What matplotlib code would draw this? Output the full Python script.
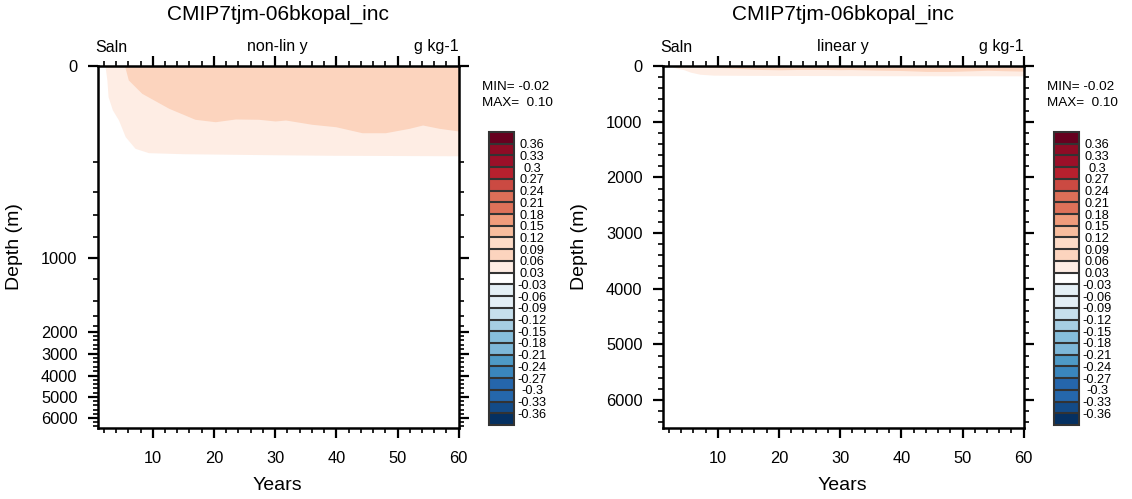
import numpy as np
import matplotlib as mpl
import matplotlib.pyplot as plt
from matplotlib.colors import ListedColormap, BoundaryNorm
from matplotlib.ticker import FixedLocator, NullFormatter, NullLocator

plt.rcParams['font.family'] = ['Liberation Sans', 'DejaVu Sans']

# contour levels and colorbar labels
levels = [-0.36, -0.33, -0.30, -0.27, -0.24, -0.21, -0.18, -0.15, -0.12, -0.09, -0.06, -0.03,
          0.03, 0.06, 0.09, 0.12, 0.15, 0.18, 0.21, 0.24, 0.27, 0.30, 0.33, 0.36]
level_labels = ['-0.36', '-0.33', '-0.3', '-0.27', '-0.24', '-0.21', '-0.18', '-0.15', '-0.12',
                '-0.09', '-0.06', '-0.03', '0.03', '0.06', '0.09', '0.12', '0.15', '0.18',
                '0.21', '0.24', '0.27', '0.3', '0.33', '0.36']

# lower edge (m) of the region where the increment is >= 0.03 g/kg
years_ge003 = [2.2, 2.5, 2.7, 3.4, 4.4, 5.5, 7.1, 9.3, 15.0, 22.4, 30.0, 38.8, 50.0, 60.0]
depth_ge003 = [0.0, 4.3, 20.6, 42.0, 63.7, 109.0, 148.0, 164.0, 168.0, 170.0, 172.0, 174.0, 175.0, 176.0]

# lower edge (m) of the region where the increment is >= 0.06 g/kg
years_ge006 = [5.4, 6.0, 8.2, 12.6, 16.9, 20.2, 23.5, 27.3, 30.0, 31.7, 36.0, 39.9,
               44.2, 48.0, 51.9, 54.1, 56.8, 60.0]
depth_ge006 = [0.0, 4.3, 16.3, 39.0, 62.0, 67.8, 61.3, 62.0, 66.0, 63.7, 74.2, 80.5,
               97.2, 97.2, 84.8, 76.0, 84.8, 92.3]

field_min, field_max = -0.02, 0.10

# colour table, lowest band first
band_colors = ['#053061', '#134b87', '#2567ab', '#2566ac', '#3a86bd', '#4e9ac6', '#7db7d8',
               '#86bedb', '#a6cee3', '#c6dfec', '#e3eef5', '#e4eff5', '#ffffff', '#feede4',
               '#fcd4be', '#fddbc7', '#f8bd9e', '#f09c7c', '#de7159', '#dc6f58', '#cb4a42',
               '#b7202e', '#9b1029', '#8e0c25', '#67001f']

# non-linear depth axis (stretched upper ocean)
top_d = np.linspace(0, 200, 81)
node_d = np.concatenate([top_d, [400, 600, 800, 1000, 1200, 1400, 1600, 1800, 2000,
                                 3000, 4000, 5000, 6000, 6500]])
node_p = np.concatenate([95.7 * np.sqrt(top_d / 200),
                         [126.3, 149, 170.7, 192, 213.3, 234.7, 250, 260, 265.7,
                          287.5, 309.5, 330.8, 352.2, 362]])


def fwd(d):
    return np.interp(d, node_d, node_p)


def inv(p):
    return np.interp(p, node_p, node_d)


W, H = 1132, 499
fig = plt.figure(figsize=(W / 100, H / 100), dpi=100)


def px_axes(x0, y0, x1, y1):
    return fig.add_axes([x0 / W, 1 - y1 / H, (x1 - x0) / W, (y1 - y0) / H])


def color_of(lev):
    i = np.searchsorted(levels, lev, side='right')
    return band_colors[i]


panels = [(97.7, 'non-lin y', True), (662.7, 'linear y', False)]
for x0, ytxt, nonlin in panels:
    ax = px_axes(x0, 66, x0 + 361, 428)
    ax.fill_between(years_ge003, 0, depth_ge003, color=color_of(0.03), lw=0)
    ax.fill_between(years_ge006, 0, depth_ge006, color=color_of(0.06), lw=0)
    if nonlin:
        ax.set_yscale('function', functions=(fwd, inv))
    ax.set_ylim(6500, 0)
    ax.set_xlim(1, 60)
    ax.xaxis.set_major_locator(FixedLocator([10, 20, 30, 40, 50, 60]))
    ax.xaxis.set_minor_locator(FixedLocator(np.arange(2, 60, 2)))
    ax.yaxis.set_major_locator(FixedLocator(np.arange(0, 6001, 1000)))
    ax.yaxis.set_minor_locator(FixedLocator(np.arange(200, 6500, 200)))
    ax.yaxis.set_minor_formatter(NullFormatter())
    ax.set_yticklabels([str(v) for v in range(0, 6001, 1000)])
    ax.tick_params(which='both', direction='out', top=True, right=True,
                   labelsize=11.8, color='black')
    ax.tick_params(which='major', length=7.5, width=1.6)
    ax.tick_params(which='minor', length=3.5, width=1.2)
    ax.tick_params(axis='y', pad=7)
    ax.tick_params(axis='x', pad=9)
    for s in ax.spines.values():
        s.set_linewidth(1.8)

    cx = x0 + 180
    fig.text(cx / W, 1 - 14 / H, 'CMIP7tjm-06bkopal_inc', ha='center', va='center', fontsize=15)
    fig.text((x0 - 2) / W, 1 - 47 / H, 'Saln', ha='left', va='center', fontsize=11.5)
    fig.text(cx / W, 1 - 46 / H, ytxt, ha='center', va='center', fontsize=11.5)
    fig.text((x0 + 361) / W, 1 - 46 / H, 'g kg-1', ha='right', va='center', fontsize=11.5)
    fig.text(cx / W, 1 - 485 / H, 'Years', ha='center', va='center', fontsize=14)
    fig.text((x0 - 83) / W, 1 - 247 / H, 'Depth (m)', ha='center', va='center',
             rotation=90, fontsize=14)
    fig.text((x0 + 384) / W, 1 - 87 / H, 'MIN= %.2f' % field_min, ha='left', va='center',
             fontsize=9.7)
    fig.text((x0 + 384) / W, 1 - 103 / H, 'MAX=  %.2f' % field_max, ha='left', va='center',
             fontsize=9.7)

    # label bar
    cax = px_axes(x0 + 391.5, 132, x0 + 416.5, 425)
    bounds = [-0.39] + levels + [0.39]
    cmap = ListedColormap(band_colors)
    norm = BoundaryNorm(bounds, cmap.N)
    cb = mpl.colorbar.ColorbarBase(cax, cmap=cmap, norm=norm, boundaries=bounds,
                                   ticks=levels, spacing='uniform', drawedges=True)
    cb.set_ticklabels(level_labels)
    cax.yaxis.set_minor_locator(NullLocator())
    cb.dividers.set_color('#333333')
    cb.dividers.set_linewidth(1.5)
    cb.outline.set_edgecolor('#333333')
    cb.outline.set_linewidth(1.5)
    cax.tick_params(length=0, pad=13, labelsize=9.2)
    for t in cax.get_yticklabels():
        t.set_horizontalalignment('center')

fig.savefig('out.png', dpi=100)
